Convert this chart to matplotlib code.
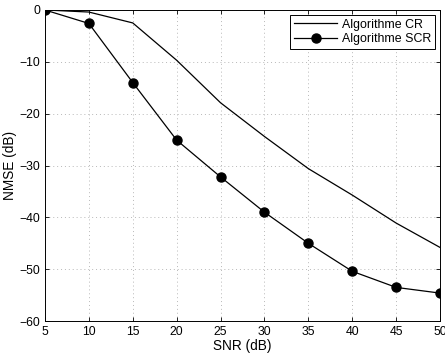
import numpy as np
import matplotlib
matplotlib.use('Agg')
import matplotlib.pyplot as plt

plt.rcParams['font.family'] = ['Liberation Sans', 'DejaVu Sans']

snr = [5, 10, 15, 20, 25, 30, 35, 40, 45, 50]
nmse_cr = [0, -0.4, -2.5, -9.7, -17.9, -24.4, -30.6, -35.7, -41.1, -45.8]
nmse_scr = [0, -2.6, -14.0, -25.1, -32.2, -39.0, -45.0, -50.4, -53.5, -54.6]

fig = plt.figure(figsize=(4.45, 3.56), dpi=100)
ax = fig.add_axes([0.101, 0.098, 0.888, 0.874])

ax.plot(snr, nmse_cr, color='black', lw=0.9, label='Algorithme CR')
ax.plot(snr, nmse_scr, color='black', lw=0.9, marker='o', markersize=6.5,
        label='Algorithme SCR')

ax.set_xlim(5, 50)
ax.set_ylim(-60, 0)
ax.set_xticks(np.arange(5, 51, 5))
ax.set_yticks(np.arange(-60, 1, 10))
ax.set_yticklabels(['\u221260', '\u221250', '\u221240', '\u221230', '\u221220', '\u221210', '0'])
ax.grid(True, linestyle=(0, (1, 3)), color='#b8b8b8', lw=0.7)
ax.tick_params(direction='in', top=True, right=True, labelsize=8.8, length=3, width=0.6)
for s in ax.spines.values():
    s.set_linewidth(0.7)
ax.set_xlabel('SNR (dB)', fontsize=9.8, labelpad=1)
ax.set_ylabel('NMSE (dB)', fontsize=9.8, labelpad=2)

leg = ax.legend(loc='upper right', fontsize=8.9, fancybox=False, framealpha=1,
                edgecolor='black', borderaxespad=0.4, handlelength=3.5,
                borderpad=0.3, labelspacing=0.2, handletextpad=0.4)
leg.get_frame().set_linewidth(0.7)

fig.savefig('out.png', dpi=100)
